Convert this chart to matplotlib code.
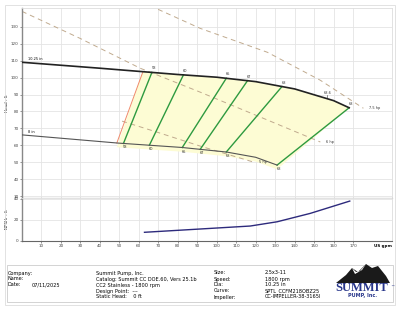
import numpy as np
import matplotlib.pyplot as plt
from matplotlib.patches import Rectangle, Polygon

# head curves (US gpm, ft)
q_max = [0, 40, 80, 100, 120, 140, 160, 168]
h_max = [109.0, 105.5, 101.8, 100.2, 97.6, 93.3, 86.4, 82.2]
q_min = [0, 49, 82, 105, 120, 131]
h_min = [66.2, 61.4, 58.8, 56.1, 53.0, 48.4]

# iso-efficiency lines: flow at max dia, flow at min dia
eff_labels = ['58', '60', '65', '67', '68', '68']
eff_q_top = [66.7, 82.9, 104.9, 115.8, 133.5, 168.0]
eff_q_bot = [52.1, 65.4, 82.3, 91.5, 104.9, 131.0]
bep_q = 156.8
bep_label = '68.6'

# min flow line
minflow_q = [62.1, 48.7]

# power lines
hp75_q = [69.9, 91.5, 126.0, 153.2, 175.3]
hp75_h = [140.2, 129.0, 114.9, 98.4, 81.9]
hp6_q = [0, 29.8, 60.7, 91.5, 122.4, 153.2]
hp6_h = [139.0, 123.1, 105.5, 91.4, 76.7, 62.0]
hp5_q = [51.4, 69.4, 91.5, 118.8]
hp5_h = [74.3, 67.8, 59.6, 50.2]

# NPSHr
npsh_q = [62.9, 91.5, 117.2, 131.0, 148.0, 168.3]
npsh_h = [8.2, 11.3, 14.1, 18.1, 26.0, 37.6]

xticks = list(range(10, 180, 10))

fig = plt.figure(figsize=(4, 3.09), dpi=100)
fig.patches.append(Rectangle((5/400, 1-305/309), 390/400, 300/309, transform=fig.transFigure,
                             fill=False, ec='#dddddd', lw=0.6))

ax = fig.add_axes([22/400, 1-198/309, 370/400, 190/309])
ax2 = fig.add_axes([22/400, 1-241/309, 370/400, 43/309])

for a in (ax, ax2):
    a.set_xlim(0, 190)
    a.set_xticks(xticks)
    a.grid(True, color='#e4e4e4', lw=0.6)
    a.set_axisbelow(True)
    a.tick_params(labelsize=3, length=1.5, width=0.4, pad=1, colors='#444444')
    for s in ('top', 'right'):
        a.spines[s].set_color('#dddddd')
        a.spines[s].set_linewidth(0.6)
    a.spines['left'].set_color('#888888')
    a.spines['left'].set_linewidth(1.0)
    a.spines['bottom'].set_color('#666666')
    a.spines['bottom'].set_linewidth(0.8)

ax.set_ylim(29, 141)
ax.set_yticks(range(30, 140, 10))
ax.tick_params(axis='x', labelbottom=False, length=0)
ax.set_ylabel('Head - ft', fontsize=3, labelpad=1)

ax2.set_ylim(0, 40.5)
ax2.set_yticks([0, 20, 40])
ax2.set_ylabel('NPSHr - ft', fontsize=3, labelpad=3)
ax2.text(1.0, -0.06, 'US gpm', transform=ax2.transAxes, ha='right', va='top', fontsize=3, fontweight='bold')

# yellow region
qa = np.linspace(minflow_q[0], q_max[-1], 60)
qb = np.linspace(eff_q_bot[-1], minflow_q[1], 60)
poly = list(zip(qa, np.interp(qa, q_max, h_max))) + \
       list(zip(qb, np.interp(qb, q_min, h_min) - 2.5))
ax.add_patch(Polygon(poly, closed=True, fc='#fdfcd4', ec='none', zorder=1))

# power lines
for qq, hh, lab in ((hp75_q, hp75_h, '7.5 hp'), (hp6_q, hp6_h, '6 hp'), (hp5_q, hp5_h, '5 hp')):
    ax.plot(qq, hh, color='#c0aa8e', lw=0.7, ls=(0, (5, 4)), zorder=2)
    ax.text(qq[-1] + 3, hh[-1], lab, fontsize=2.5, va='center', color='#333333')

# min flow
ax.plot(minflow_q, [np.interp(minflow_q[0], q_max, h_max), np.interp(minflow_q[1], q_min, h_min)],
        color='#f08a6a', lw=0.7, zorder=3)

# efficiency lines
for lab, qt, qb_ in zip(eff_labels, eff_q_top, eff_q_bot):
    ht = np.interp(qt, q_max, h_max)
    hb = np.interp(qb_, q_min, h_min)
    ax.plot([qt, qb_], [ht, hb], color='#2e9a40', lw=1.0, zorder=4)
    ax.text(qt + 1, ht + 1.2, lab, fontsize=2.5, ha='center', va='bottom', color='#333333')
    ax.text(qb_ + 1, hb - 1.2, lab, fontsize=2.5, ha='center', va='top', color='#333333')
hbep = np.interp(bep_q, q_max, h_max)
ax.text(bep_q, hbep + 2.5, bep_label, fontsize=2.5, ha='center', va='bottom', color='#333333')
ax.plot([bep_q, bep_q], [hbep + 0.6, hbep + 2.2], color='#333333', lw=0.4)

# diameter curves
ax.plot(q_max, h_max, color='#222222', lw=1.2, zorder=5)
ax.plot(q_min, h_min, color='#555555', lw=0.8, zorder=5)
ax.text(3, h_max[0] + 0.8, '10.25 in', fontsize=2.5, va='bottom')
ax.text(3, h_min[0] + 0.8, '8 in', fontsize=2.5, va='bottom')

ax2.plot(npsh_q, npsh_h, color='#2d2a7c', lw=1.0)

# info panel
fig.patches.append(Rectangle((7/400, 1-302/309), 386/400, 37/309, transform=fig.transFigure,
                             fill=False, ec='#cccccc', lw=0.6))
fs = 3.6
rows = [273, 279, 285, 291, 297]
for y, t in zip(rows[:3], ['Company:', 'Name:', 'Date:']):
    fig.text(8/400, 1-y/309, t, fontsize=fs, va='center')
fig.text(32/400, 1-285/309, '07/11/2025', fontsize=fs, va='center')
mid = ['Summit Pump, Inc.', 'Catalog: Summit CC DOE.60, Vers 25.1b', 'CC2 Stainless - 1800 rpm',
       'Design Point:  ---', 'Static Head:    0 ft']
for y, t in zip(rows, mid):
    fig.text(96/400, 1-y/309, t, fontsize=fs, va='center')
for y, t in zip(rows, ['Size:', 'Speed:', 'Dia:', 'Curve:', 'Impeller:']):
    fig.text(214/400, 1-y/309, t, fontsize=fs, va='center')
for y, t in zip(rows, ['2.5x3-11', '1800 rpm', '10.25 in', 'SPTL_CCFM218OBZ25', 'CC-IMPELLER-38-3165I']):
    fig.text(265/400, 1-y/309, t, fontsize=fs, va='center')

# logo
mtn = [(336, 283), (346, 275), (352, 268), (358, 272), (366, 264), (372, 268), (378, 266),
       (386, 276), (390, 283)]
fig.patches.append(Polygon([(x/400, 1-y/309) for x, y in mtn], closed=True, transform=fig.transFigure,
                           fc='#1a1a1a', ec='none'))
snow = [(352, 268), (356, 272), (360, 271), (366, 264), (362, 270), (355, 274)]
fig.patches.append(Polygon([(x/400, 1-y/309) for x, y in snow], closed=True, transform=fig.transFigure,
                           fc='white', ec='none'))
fig.text(362/400, 1-288/309, 'SUMMIT', fontsize=9, fontweight='bold', family='Liberation Serif',
         color='#27358a', ha='center', va='center')
fig.text(392/400, 1-287/309, '\u2122', fontsize=3, color='#27358a', ha='center', va='center')
fig.text(363/400, 1-296/309, 'PUMP, Inc.', fontsize=3.5, fontweight='bold', color='#27358a',
         ha='center', va='center')

fig.savefig('out.png', dpi=100)
